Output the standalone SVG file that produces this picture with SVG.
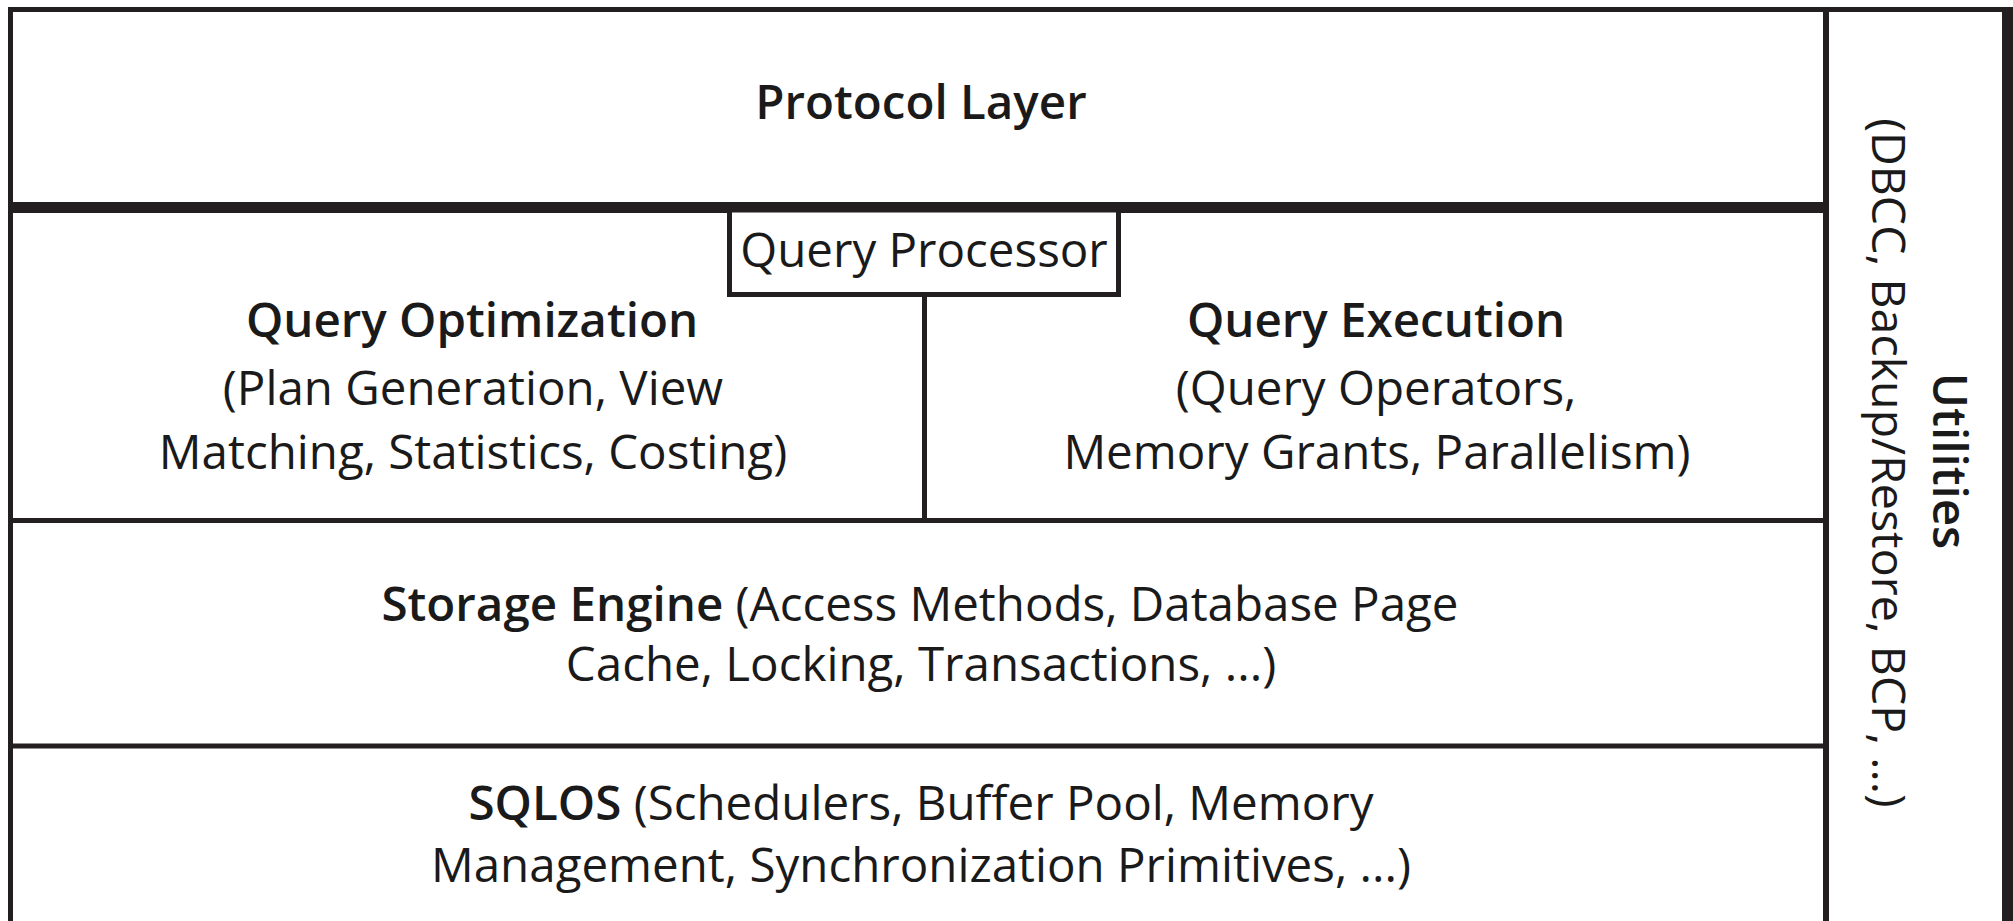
<svg xmlns="http://www.w3.org/2000/svg" width="2013" height="921" viewBox="0 0 2013 921">
<style>
.ln{stroke:#231f20;fill:none;stroke-linecap:butt}
.t{font-family:"Open Sans","Noto Sans","Liberation Sans",sans-serif;font-size:47.5px;fill:#1a1a1a;text-anchor:middle}
.b{font-weight:600}
.s{font-size:46.5px}
</style>
<rect x="0" y="0" width="2013" height="921" fill="#ffffff"/>
<g id="connectors">
<line class="ln" x1="8" y1="9.5" x2="2005" y2="9.5" stroke-width="5"/>
<line class="ln" x1="10.5" y1="7" x2="10.5" y2="921" stroke-width="5"/>
<rect x="2002" y="7" width="11" height="914" fill="#231f20"/>
<line class="ln" x1="1826" y1="7" x2="1826" y2="921" stroke-width="6"/>
<line class="ln" x1="13" y1="207.5" x2="1823" y2="207.5" stroke-width="11"/>
<line class="ln" x1="13" y1="520.5" x2="1823" y2="520.5" stroke-width="5"/>
<line class="ln" x1="13" y1="746" x2="1823" y2="746" stroke-width="5"/>
<line class="ln" x1="924.5" y1="295" x2="924.5" y2="518" stroke-width="5"/>
</g>
<g id="protocol-layer">
<text class="t b" x="921" y="119">Protocol Layer</text>
</g>
<g id="query-processor">
<rect x="729.5" y="210" width="389" height="84.5" fill="#ffffff" stroke="#231f20" stroke-width="5"/>
<text class="t" x="924" y="267">Query Processor</text>
</g>
<g id="query-optimization">
<text class="t b" x="472" y="337">Query Optimization</text>
<text class="t" x="473" y="405">(Plan Generation, View</text>
<text class="t" x="473" y="469">Matching, Statistics, Costing)</text>
</g>
<g id="query-execution">
<text class="t b" x="1376" y="337">Query Execution</text>
<text class="t" x="1376" y="405">(Query Operators,</text>
<text class="t" x="1377" y="469">Memory Grants, Parallelism)</text>
</g>
<g id="storage-engine">
<text class="t" x="920" y="621"><tspan class="b">Storage Engine</tspan> (Access Methods, Database Page</text>
<text class="t" x="921" y="681">Cache, Locking, Transactions, ...)</text>
</g>
<g id="sqlos">
<text class="t" x="921" y="820"><tspan class="b">SQLOS</tspan> (Schedulers, Buffer Pool, Memory</text>
<text class="t" x="921" y="882">Management, Synchronization Primitives, ...)</text>
</g>
<g id="utilities">
<text class="t b" transform="translate(1933,461) rotate(90)">Utilities</text>
<text class="t s" transform="translate(1872,463) rotate(90)">(DBCC, Backup/Restore, BCP, ...)</text>
</g>
</svg>
